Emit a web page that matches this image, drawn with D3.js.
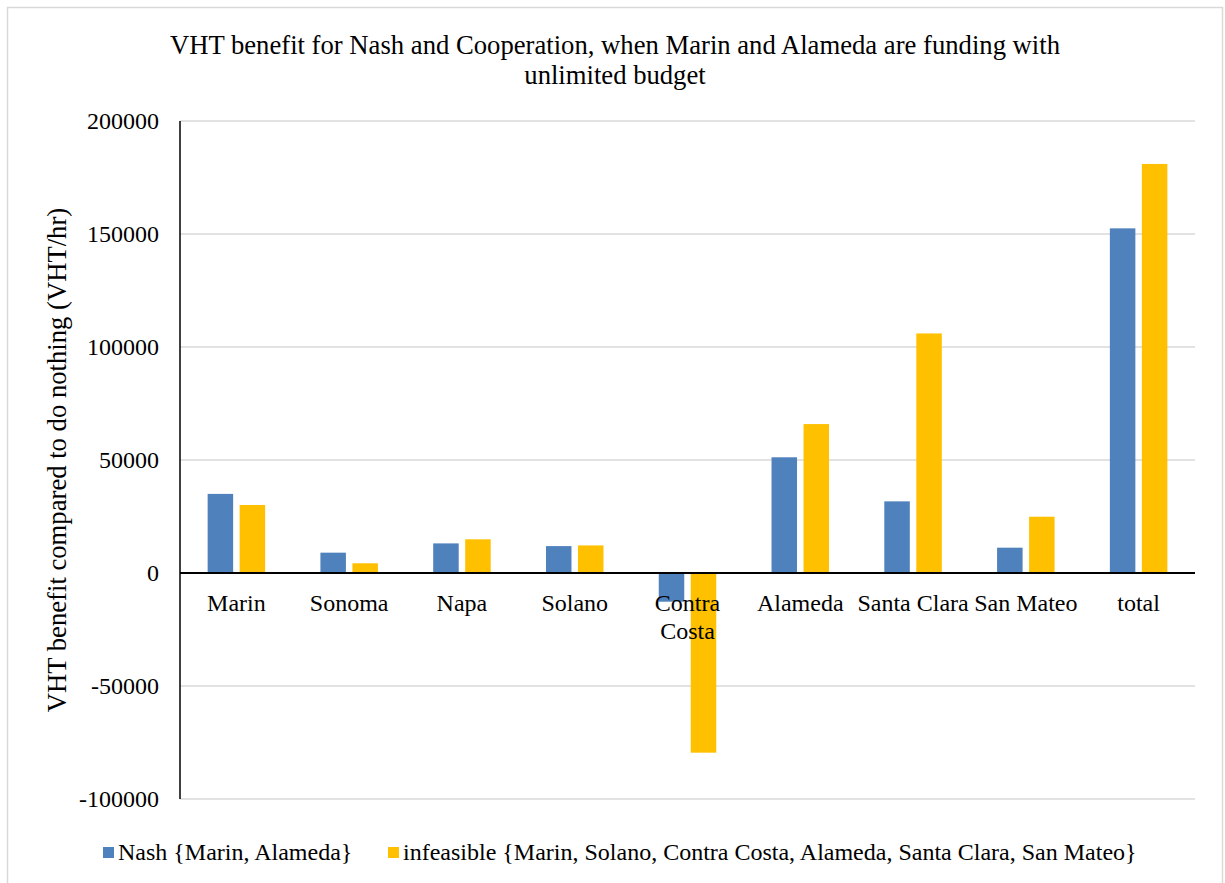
<!DOCTYPE html>
<html>
<head>
<meta charset="utf-8">
<script src="https://cdn.jsdelivr.net/npm/d3@7"></script>
<style>
  body { margin: 0; background: #fff; }
  svg text { font-family: "Liberation Serif", "Times New Roman", serif; fill: #000; }
</style>
</head>
<body>
<svg id="chart" width="1225" height="883"></svg>
<script>
// data
const categories = ['Marin', 'Sonoma', 'Napa', 'Solano', 'Contra Costa', 'Alameda', 'Santa Clara', 'San Mateo', 'total'];
const nashValues = [35000, 9000, 13100, 11900, -12700, 51200, 31700, 11200, 152500];
const infeasibleValues = [30100, 4300, 14900, 12200, -79500, 65900, 106000, 24900, 181000];
const seriesNames = ['Nash {Marin, Alameda}', 'infeasible {Marin, Solano, Contra Costa, Alameda, Santa Clara, San Mateo}'];
const seriesColors = ['#4f81bd', '#ffc000'];
const yTicks = [-100000, -50000, 0, 50000, 100000, 150000, 200000];

const titleLines = ['VHT benefit for Nash and Cooperation, when Marin and Alameda are funding with', 'unlimited budget'];
const yLabel = 'VHT benefit compared to do nothing (VHT/hr)';

const svg = d3.select('#chart');
const serif = '"Liberation Serif", "Times New Roman", serif';

// outer frame
svg.append('rect')
  .attr('x', 7.5).attr('y', 7.5)
  .attr('width', 1215).attr('height', 890)
  .attr('fill', 'none').attr('stroke', '#d9d9d9').attr('stroke-width', 1.5);

const plot = { left: 180, right: 1195, top: 121, bottom: 799 };

const x = d3.scaleBand()
  .domain(categories)
  .range([plot.left, plot.right])
  .paddingInner(0).paddingOuter(0);

const y = d3.scaleLinear()
  .domain([-100000, 200000])
  .range([plot.bottom, plot.top]);

// gridlines
svg.append('g')
  .selectAll('line')
  .data(yTicks.filter(d => d !== 0))
  .join('line')
  .attr('x1', plot.left).attr('x2', plot.right)
  .attr('y1', d => y(d)).attr('y2', d => y(d))
  .attr('stroke', '#d9d9d9').attr('stroke-width', 1.5);

// y axis (labels only, line drawn separately); plain hyphen for negatives
const yAxis = svg.append('g')
  .attr('transform', `translate(${plot.left},0)`)
  .call(d3.axisLeft(y).tickValues(yTicks).tickSize(0).tickPadding(21).tickFormat(d => String(d)));
yAxis.select('.domain').remove();
yAxis.attr('font-family', serif).attr('font-size', 24);
yAxis.selectAll('text').attr('fill', '#000');

svg.append('line')
  .attr('x1', plot.left).attr('x2', plot.left)
  .attr('y1', plot.top).attr('y2', plot.bottom)
  .attr('stroke', '#000').attr('stroke-width', 1.5);

// bars
const barW = 25.5;
const gap = 6.5;
const series = [nashValues, infeasibleValues];
series.forEach((vals, si) => {
  svg.append('g')
    .selectAll('rect')
    .data(vals.map((v, i) => ({ cat: categories[i], v })))
    .join('rect')
    .attr('x', d => x(d.cat) + x.bandwidth() / 2 - (barW + gap / 2) + si * (barW + gap))
    .attr('width', barW)
    .attr('y', d => Math.min(y(d.v), y(0)))
    .attr('height', d => Math.abs(y(d.v) - y(0)))
    .attr('fill', seriesColors[si]);
});

// zero axis line
svg.append('line')
  .attr('x1', plot.left).attr('x2', plot.right)
  .attr('y1', y(0)).attr('y2', y(0))
  .attr('stroke', '#000').attr('stroke-width', 2);

// category labels, wrapped where the band is too narrow
const catG = svg.append('g');
categories.forEach(c => {
  const t = catG.append('text')
    .attr('x', x(c) + x.bandwidth() / 2)
    .attr('y', y(0) + 38)
    .attr('text-anchor', 'middle')
    .attr('font-family', serif)
    .attr('font-size', 24);
  const lines = c === 'Contra Costa' ? ['Contra', 'Costa'] : [c];
  lines.forEach((l, i) => {
    t.append('tspan')
      .attr('x', x(c) + x.bandwidth() / 2)
      .attr('dy', i === 0 ? 0 : 28)
      .text(l);
  });
});

// title
svg.append('text')
  .attr('text-anchor', 'middle')
  .attr('font-family', serif)
  .attr('font-size', 26.67)
  .selectAll('tspan')
  .data(titleLines)
  .join('tspan')
  .attr('x', 615)
  .attr('y', (d, i) => 54 + i * 30)
  .text(d => d);

// y axis title
svg.append('text')
  .attr('transform', `translate(66,${(plot.top + plot.bottom) / 2}) rotate(-90)`)
  .attr('text-anchor', 'middle')
  .attr('font-family', serif)
  .attr('font-size', 26.67)
  .text(yLabel);

// legend
const legend = svg.append('g');
const legendX = [103, 388];
seriesNames.forEach((name, i) => {
  legend.append('rect')
    .attr('x', legendX[i]).attr('y', 847)
    .attr('width', 11).attr('height', 11)
    .attr('fill', seriesColors[i]);
  legend.append('text')
    .attr('x', legendX[i] + 15).attr('y', 860)
    .attr('font-family', serif)
    .attr('font-size', 24)
    .text(name);
});
</script>
</body>
</html>
